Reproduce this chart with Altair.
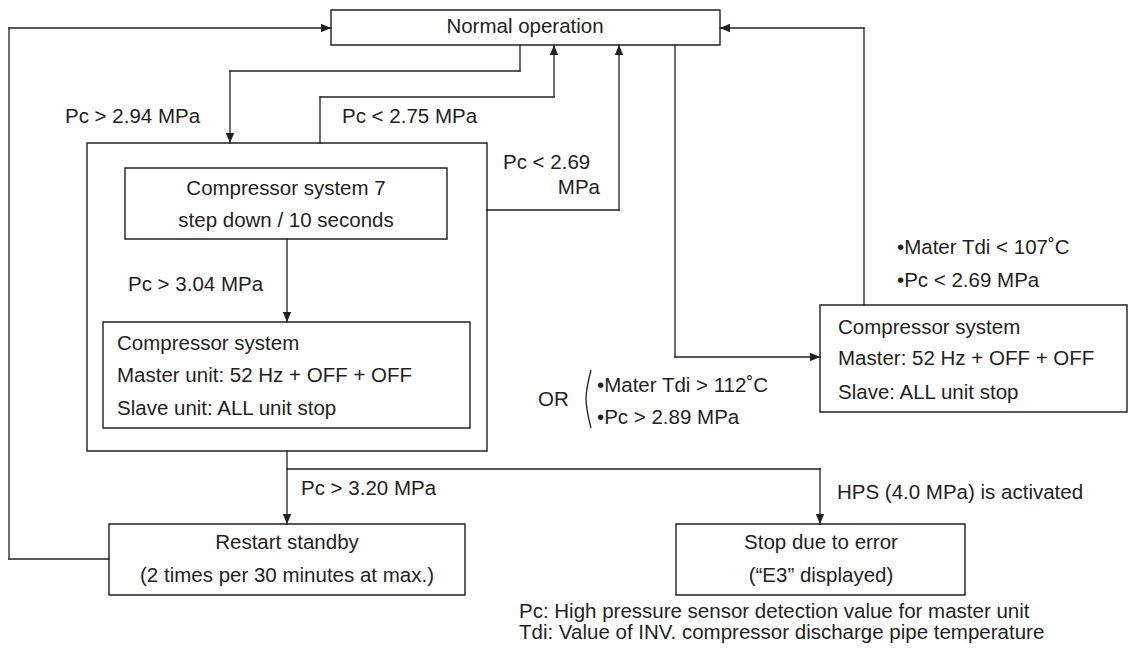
import altair as alt
import pandas as pd

# ---------------- geometry of the flowchart (reference pixel units) ----------------
W, H = 1120, 637          # plot area (page has an 8px margin)
XDOM = [8, 1128]
YDOM = [8, 645]

INK = "#231f20"
FONT = "Liberation Sans"
FS = 20.5

# boxes
box_name = ["normal", "big", "inner1", "inner2", "restart", "right", "stop"]
box_x1 = [331, 87, 125, 103, 109, 820, 676]
box_y1 = [10, 143, 168, 322, 524, 305, 524]
box_x2 = [720, 487, 447, 470, 465, 1127, 965]
box_y2 = [45, 451, 239, 428, 595, 412, 595]

# connectors (polylines, arrow at the last point)
paths = [
    [(109, 559), (9, 559), (9, 28), (331, 28)],
    [(520, 45), (520, 71), (230, 71), (230, 143)],
    [(320, 143), (320, 97), (554, 97), (554, 45)],
    [(487, 210), (619, 210), (619, 45)],
    [(675, 45), (675, 357), (820, 357)],
    [(864, 305), (864, 28), (720, 28)],
    [(287, 239), (287, 322)],
    [(287, 451), (287, 524)],
    [(287, 469), (820, 469), (820, 524)],
]

# texts
center_text = ["Normal operation", "Compressor system 7", "step down / 10 seconds",
               "Restart standby", "(2 times per 30 minutes at max.)",
               "Stop due to error", "(\u201cE3\u201d displayed)"]
center_x = [525, 286, 286, 287, 287, 821, 821]
center_y = [27, 189, 221, 543, 576, 543, 576]

left_text = ["Pc > 2.94 MPa", "Pc < 2.75 MPa", "Pc < 2.69", "Pc > 3.04 MPa",
             "Compressor system", "Master unit: 52 Hz + OFF + OFF", "Slave unit: ALL unit stop",
             "Pc > 3.20 MPa",
             "\u2022Mater Tdi < 107\u02daC", "\u2022Pc < 2.69 MPa",
             "Compressor system", "Master: 52 Hz + OFF + OFF", "Slave: ALL unit stop",
             "OR", "\u2022Mater Tdi > 112\u02daC", "\u2022Pc > 2.89 MPa",
             "HPS (4.0 MPa) is activated",
             "Pc: High pressure sensor detection value for master unit",
             "Tdi: Value of INV. compressor discharge pipe temperature"]
left_x = [65, 342, 503, 128, 117, 117, 117, 301, 897, 897, 838, 838, 838,
          538, 597, 597, 837, 519, 519]
left_y = [117, 117, 163, 285, 344, 376, 409, 489, 248, 281, 328, 359, 393,
          400, 386, 418, 493, 612, 633]

right_text = ["MPa"]
right_x = [600]
right_y = [188]

paren_x = [591, 586, 591]
paren_y = [370, 399, 428]

# ---------------- build tables ----------------
boxes = pd.DataFrame({"name": box_name, "x": box_x1, "y": box_y1, "x2": box_x2, "y2": box_y2})

seg_rows, arrow_rows = [], []
for p in paths:
    for (ax, ay), (bx, by) in zip(p[:-1], p[1:]):
        seg_rows.append({"x": ax, "y": ay, "x2": bx, "y2": by})
    (ax, ay), (bx, by) = p[-2], p[-1]
    if bx > ax:
        ang = 270
    elif bx < ax:
        ang = 90
    elif by > ay:
        ang = 0
    else:
        ang = 180
    arrow_rows.append({"x": bx, "y": by, "angle": ang})
segs = pd.DataFrame(seg_rows)
arrows = pd.DataFrame(arrow_rows)

ct = pd.DataFrame({"t": center_text, "x": center_x, "y": center_y})
lt = pd.DataFrame({"t": left_text, "x": left_x, "y": left_y})
rt = pd.DataFrame({"t": right_text, "x": right_x, "y": right_y})
paren = pd.DataFrame({"x": paren_x, "y": paren_y, "i": list(range(len(paren_x)))})

xs = alt.Scale(domain=XDOM, nice=False, zero=False)
ys = alt.Scale(domain=YDOM, nice=False, zero=False, reverse=True)
X = lambda f="x": alt.X(f"{f}:Q", scale=xs, axis=None)
Y = lambda f="y": alt.Y(f"{f}:Q", scale=ys, axis=None)

rects = alt.Chart(boxes).mark_rect(fill="white", stroke=INK, strokeWidth=1.4).encode(
    x=X(), x2="x2:Q", y=Y(), y2="y2:Q")

lines = alt.Chart(segs).mark_rule(color=INK, strokeWidth=1.3, strokeCap="square").encode(
    x=X(), x2="x2:Q", y=Y(), y2="y2:Q")

heads = alt.Chart(arrows).mark_point(
    shape="M0,0L-0.42,-1L0.42,-1Z", size=400, filled=True, color=INK, opacity=1,
    strokeWidth=0).encode(x=X(), y=Y(), angle=alt.Angle("angle:Q", scale=None))

def txt(df, align):
    return alt.Chart(df).mark_text(align=align, baseline="middle", font=FONT,
                                   fontSize=FS, color=INK).encode(x=X(), y=Y(), text="t:N")

paren_line = alt.Chart(paren).mark_line(color=INK, strokeWidth=1.3, interpolate="natural").encode(
    x=X(), y=Y(), order="i:Q")

chart = alt.layer(rects, lines, heads, paren_line,
                  txt(ct, "center"), txt(lt, "left"), txt(rt, "right")).properties(
    width=W, height=H,
    autosize=alt.AutoSizeParams(type="none"),
    padding=0,
    background="white",
).configure_view(stroke=None)

chart.save("out.html", embed_options={"renderer": "svg", "actions": False})
